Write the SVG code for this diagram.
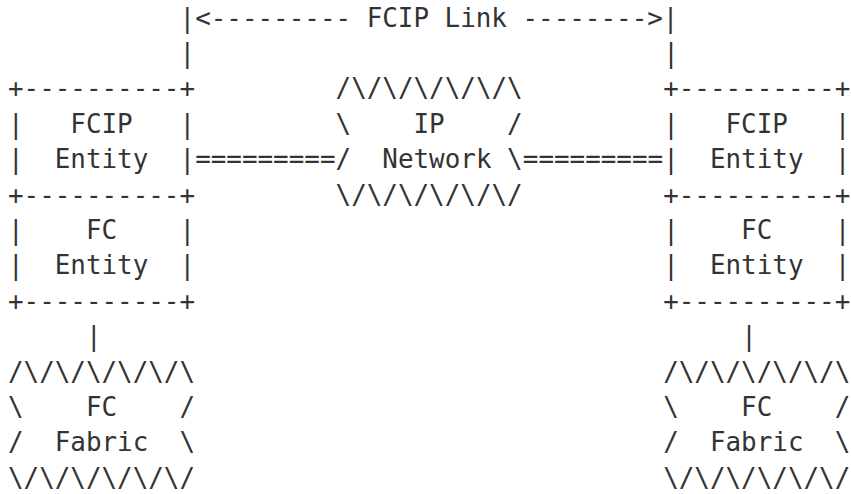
<svg xmlns="http://www.w3.org/2000/svg" width="851" height="494" viewBox="0 0 851 494">
<style>
text { font-family: "DejaVu Sans Mono", "Liberation Mono", monospace; font-size: 25.9px; fill: #333333; white-space: pre; }
</style>
<rect width="851" height="494" fill="#ffffff"/>
<g id="connectors" xml:space="preserve">
<text x="179.6" y="26.5">|&lt;--------- FCIP Link --------&gt;|</text>
<text x="179.6" y="61.9">|</text>
<text x="663.2" y="61.9">|</text>
<text x="195.2" y="168.1">=========</text>
<text x="522.8" y="168.1">=========</text>
<text x="86" y="345.1">|</text>
<text x="741.2" y="345.1">|</text>
</g>
<g id="left-fcip-entity" xml:space="preserve">
<text x="8" y="97.3">+----------+</text>
<text x="8" y="132.7">|   FCIP   |</text>
<text x="8" y="168.1">|  Entity  |</text>
<text x="8" y="203.5">+----------+</text>
</g>
<g id="left-fc-entity" xml:space="preserve">
<text x="8" y="238.9">|    FC    |</text>
<text x="8" y="274.3">|  Entity  |</text>
<text x="8" y="309.7">+----------+</text>
</g>
<g id="ip-network" xml:space="preserve">
<text x="335.6" y="97.3">/\/\/\/\/\/\</text>
<text x="335.6" y="132.7">\    IP    /</text>
<text x="335.6" y="168.1">/  Network \</text>
<text x="335.6" y="203.5">\/\/\/\/\/\/</text>
</g>
<g id="right-fcip-entity" xml:space="preserve">
<text x="663.2" y="97.3">+----------+</text>
<text x="663.2" y="132.7">|   FCIP   |</text>
<text x="663.2" y="168.1">|  Entity  |</text>
<text x="663.2" y="203.5">+----------+</text>
</g>
<g id="right-fc-entity" xml:space="preserve">
<text x="663.2" y="238.9">|    FC    |</text>
<text x="663.2" y="274.3">|  Entity  |</text>
<text x="663.2" y="309.7">+----------+</text>
</g>
<g id="left-fc-fabric" xml:space="preserve">
<text x="8" y="380.5">/\/\/\/\/\/\</text>
<text x="8" y="415.9">\    FC    /</text>
<text x="8" y="451.3">/  Fabric  \</text>
<text x="8" y="486.7">\/\/\/\/\/\/</text>
</g>
<g id="right-fc-fabric" xml:space="preserve">
<text x="663.2" y="380.5">/\/\/\/\/\/\</text>
<text x="663.2" y="415.9">\    FC    /</text>
<text x="663.2" y="451.3">/  Fabric  \</text>
<text x="663.2" y="486.7">\/\/\/\/\/\/</text>
</g>
</svg>
